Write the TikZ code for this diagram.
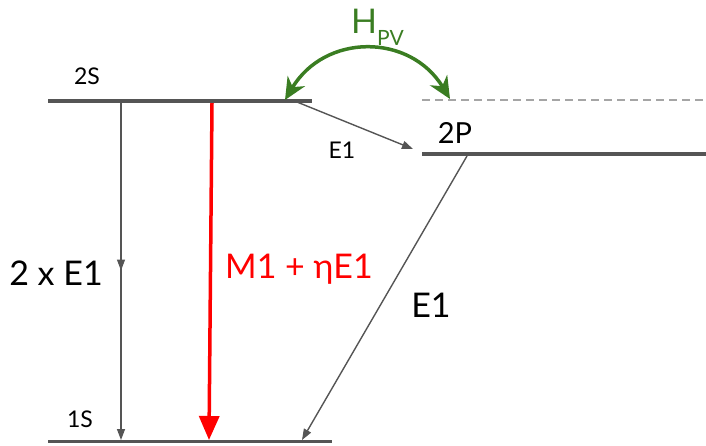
\documentclass[tikz,border=0pt]{standalone}
\usepackage{fontspec}
\setmainfont{Lato}
\usetikzlibrary{arrows.meta,decorations.markings}
\definecolor{lvl}{RGB}{85,85,85}
\definecolor{dsh}{RGB}{165,165,165}
\definecolor{pvgreen}{RGB}{58,125,34}
\tikzset{
  level/.style={draw=lvl,line width=3.5pt},
  dashlevel/.style={draw=dsh,line width=2pt,dash pattern=on 8pt off 5pt},
  trans/.style={draw=lvl,line width=1.4pt,-{Triangle[length=11pt,width=8pt]}},
  redtrans/.style={draw=red,line width=3.5pt,-{Triangle[length=24pt,width=20pt]}},
  pvarrow/.style={draw=pvgreen,line width=3.5pt,{Stealth[length=22pt,width=20pt,inset=7pt]}-{Stealth[length=22pt,width=20pt,inset=7pt]}},
  midarrow/.style={postaction={decorate},decoration={markings,mark=at position 0.5 with {\arrow{Triangle[length=11pt,width=8pt]}}}},
  lbl/.style={inner sep=0pt,anchor=base},
  big/.style={lbl,font=\fontsize{34}{34}\selectfont},
  mid/.style={lbl,font=\fontsize{29}{29}\selectfont},
  small/.style={lbl,font=\fontsize{23}{23}\selectfont},
}
\begin{document}
\begin{tikzpicture}[x=1pt,y=-1pt]
\useasboundingbox (0,0) rectangle (706,445);
% level coordinates
\coordinate (s2L) at (48,101);
\coordinate (s2R) at (312,101);
\coordinate (s1L) at (48,441);
\coordinate (s1R) at (332,441);
\coordinate (p2L) at (422,154);
\coordinate (p2R) at (706,154);
\coordinate (dL) at (422,100);
\coordinate (dR) at (706,100);
% levels
\draw[level] (s2L) -- (s2R);
\draw[level,line width=3pt] (s1L) -- (s1R);
\draw[level] (p2L) -- (p2R);
\draw[dashlevel] (dL) -- (dR);
% transition endpoints
\coordinate (a1) at (121,101);
\coordinate (a2) at (121,440);
\coordinate (r1) at (212,103);
\coordinate (r2) at (209,440);
\coordinate (e1) at (297,102);
\coordinate (e2) at (413,149);
\coordinate (f1) at (467,156);
\coordinate (f2) at (302,440);
\coordinate (g1) at (285,100);
\coordinate (g2) at (450,99);
% transitions
\draw[trans,midarrow] (a1) -- (a2);
\draw[redtrans] (r1) -- (r2);
\draw[trans] (e1) -- (e2);
\draw[trans] (f1) -- (f2);
\draw[pvarrow] (g1) .. controls (325,33) and (410,33) .. (g2);
% labels
\node[small] (l2s) at (87,84) {2S};
\node[small] (l1s) at (80,427) {1S};
\node[mid] (l2p) at (455,143) {2P};
\node[small] (le1a) at (342,158) {E1};
\node[big] (l2e) at (56,285) {2 x E1};
\node[big,text=red] (lm1) at (299,278) {M1 + ηE1};
\node[big] (le1b) at (431,317) {E1};
\node[lbl,anchor=base west,text=pvgreen,font=\fontsize{34}{34}\selectfont] (lhpv) at (351,33) {H\raisebox{-12pt}{\fontsize{21}{21}\selectfont PV}};
\end{tikzpicture}
\end{document}
